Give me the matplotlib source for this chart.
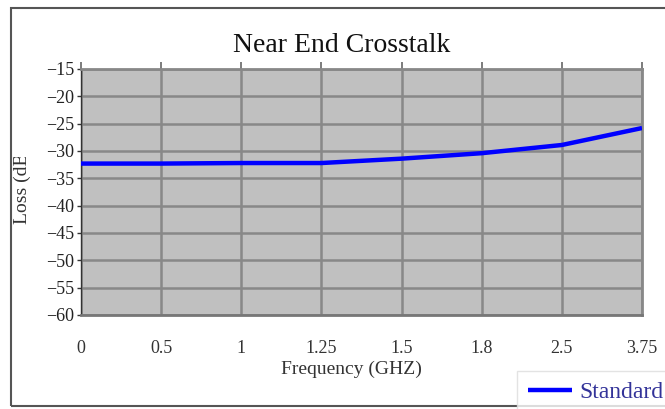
import numpy as np
import matplotlib
matplotlib.use('Agg')
import matplotlib.pyplot as plt
from matplotlib.patches import Rectangle
from matplotlib.transforms import Bbox, TransformedBbox

serif = {'fontname': 'Liberation Serif'}

# Data (categorical x axis)
freq_labels = ['0', '0.5', '1', '1.25', '1.5', '1.8', '2.5', '3.75']
loss_standard = [-32.3, -32.3, -32.2, -32.2, -31.4, -30.4, -28.9, -25.8]
y_ticks = [-15, -20, -25, -30, -35, -40, -45, -50, -55, -60]

fig = plt.figure(figsize=(6.65, 4.09), dpi=100)
ax = fig.add_axes([81/665, 1-315/409, (642-81)/665, (315-69)/409])

x = np.arange(len(freq_labels))
line, = ax.plot(x, loss_standard, color='#0000ff', lw=3.2, solid_capstyle='butt',
                label='Standard', zorder=3)

ax.set_facecolor('#c0c0c0')
ax.set_xlim(0, len(freq_labels)-1)
ax.set_ylim(-60, -15)
ax.set_yticks(y_ticks)
ax.set_yticklabels(['\u2212%d' % abs(v) for v in y_ticks], **serif, fontsize=13, color='#222222')
ax.set_xticks(x)
ax.set_xticklabels(freq_labels, **serif, fontsize=13, color='#333333')

ax.grid(True, color='#888888', lw=1.8)
ax.set_axisbelow(True)

# ticks: outward on top, left; none at bottom
ax.tick_params(axis='x', bottom=False, top=True, direction='out', length=5,
               color='#666666', width=1.2, pad=13)
ax.tick_params(axis='y', left=True, direction='out', length=3, color='#333333',
               width=1, pad=2)

for s in ['top', 'right', 'bottom']:
    ax.spines[s].set_color('#888888')
    ax.spines[s].set_linewidth(2)
ax.spines['bottom'].set_color('#777777')
ax.spines['left'].set_color('#333333')
ax.spines['left'].set_linewidth(1)

fig.text(342/665, 1-46/409, 'Near End Crosstalk', ha='center', va='center',
         fontsize=20, color='#111111', **serif)
fig.text(351/665, 1-369/409, 'Frequency (GHZ)', ha='center', va='center',
         fontsize=14, color='#333333', **serif)

# y label, cut off at the top like in the original
yl = fig.text(22/665, 1-224/409, 'Loss (dB)', ha='center', va='bottom', rotation=90,
              fontsize=14, color='#333333', **serif)
yl.set_clip_box(TransformedBbox(Bbox([[0, 0], [60/665, 1-157/409]]), fig.transFigure))
yl.set_clip_on(True)

# outer frame
frame = Rectangle((11/665, 1-406/409), 1.2, (406-8)/409, transform=fig.transFigure,
                  fill=False, edgecolor='#555555', lw=1.5)
fig.patches.append(frame)

leg = fig.legend(handles=[line], labels=['Standard'], loc='upper left',
                 bbox_to_anchor=(517/665, 1-371/409), frameon=True, fancybox=False,
                 borderaxespad=0, handlelength=1.9, handletextpad=0.3,
                 borderpad=0.45, prop={'family': 'Liberation Serif', 'size': 17})
leg.get_frame().set_edgecolor('#dddddd')
leg.get_frame().set_linewidth(1)
for t in leg.get_texts():
    t.set_color('#333399')

fig.savefig('out.png', dpi=100)
